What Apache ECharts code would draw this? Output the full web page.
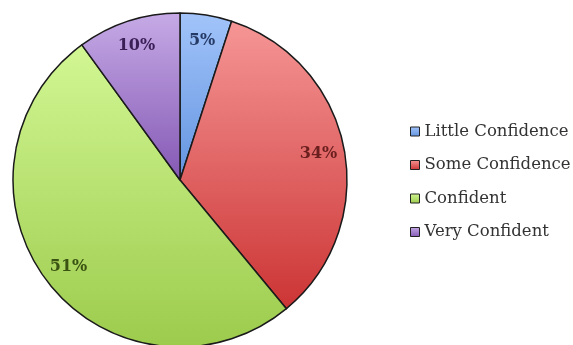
<!DOCTYPE html>
<html>
<head>
<meta charset="utf-8">
<script src="https://cdn.jsdelivr.net/npm/echarts@6/dist/echarts.min.js"></script>
<style>html,body{margin:0;padding:0;background:#fff;}#c{width:573px;height:345px;}</style>
</head>
<body>
<div id="c"></div>
<script>
const categories = ['Little Confidence', 'Some Confidence', 'Confident', 'Very Confident'];
const values = [5, 34, 51, 10];
const topColors = ['#a2c4fa', '#f69696', '#d2f794', '#c6aae6'];
const bottomColors = ['#6394e0', '#cc3434', '#9ccb4c', '#8458b4'];
const labelColors = ['#263a66', '#6a1e1e', '#3a5212', '#3a1f56'];

const grad = (i) => new echarts.graphic.LinearGradient(0, 0, 0, 1, [
  { offset: 0, color: topColors[i] }, { offset: 1, color: bottomColors[i] }
]);

const chart = echarts.init(document.getElementById('c'), null, { renderer: 'canvas' });
chart.setOption({
  animation: false,
  legend: {
    orient: 'vertical',
    left: 410,
    top: 123,
    padding: 0,
    itemWidth: 9,
    itemHeight: 9,
    itemGap: 16.5,
    icon: 'rect',
    itemStyle: { borderColor: '#222', borderWidth: 1 },
    textStyle: { fontFamily: 'DejaVu Serif', fontSize: 16.5, color: '#333' },
    data: categories
  },
  series: [
    {
      type: 'pie',
      center: [180, 180],
      radius: [0, 167],
      startAngle: 90,
      clockwise: true,
      silent: true,
      label: { show: false },
      labelLine: { show: false },
      itemStyle: { borderColor: '#1a1a1a', borderWidth: 1.5 },
      data: categories.map((n, i) => ({ name: n, value: values[i], itemStyle: { color: grad(i) } }))
    },
    {
      type: 'pie',
      center: [180, 180],
      radius: [110, 166],
      startAngle: 90,
      clockwise: true,
      silent: true,
      legendHoverLink: false,
      itemStyle: { color: 'rgba(0,0,0,0)', borderWidth: 0 },
      label: {
        show: true,
        position: 'inside',
        formatter: '{c}%',
        fontFamily: 'DejaVu Serif',
        fontSize: 16,
        fontWeight: 'bold'
      },
      labelLine: { show: false },
      data: categories.map((n, i) => ({ name: n, value: values[i], label: { color: labelColors[i] } }))
    }
  ]
});
</script>
</body>
</html>
